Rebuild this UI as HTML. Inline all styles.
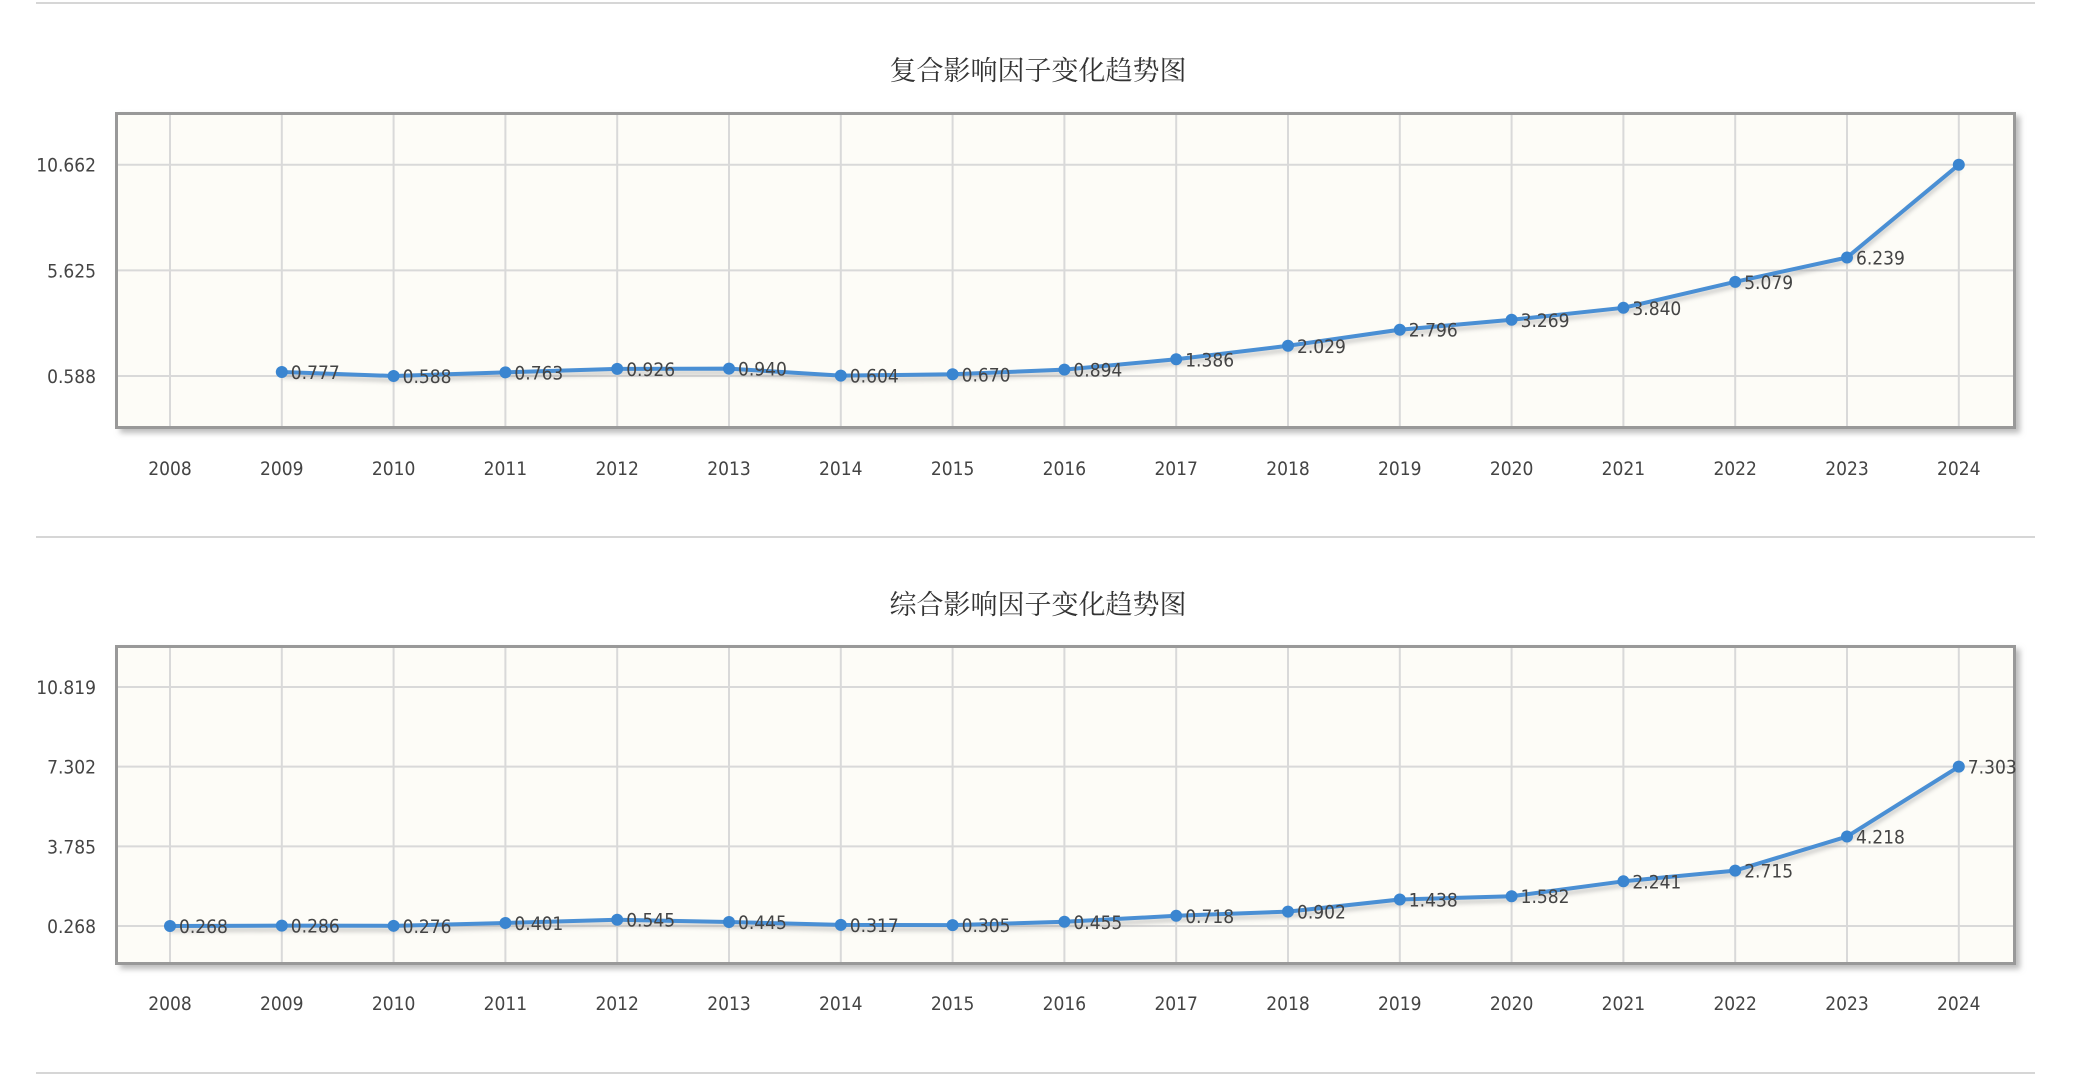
<!DOCTYPE html>
<html><head><meta charset="utf-8"><style>
html,body{margin:0;padding:0;background:#fff;width:2080px;height:1092px;overflow:hidden}
svg{display:block}
</style></head><body>
<svg id="s" width="2080" height="1092" xmlns="http://www.w3.org/2000/svg">
<defs>
<filter id="sh" x="-5%" y="-5%" width="110%" height="120%"><feGaussianBlur stdDeviation="3"/></filter>
<filter id="ls" x="-5%" y="-20%" width="110%" height="140%"><feGaussianBlur stdDeviation="2"/></filter>
</defs>
<line x1="36" y1="3" x2="2035" y2="3" stroke="#d6d6d6" stroke-width="2"/>
<line x1="36" y1="537" x2="2035" y2="537" stroke="#d6d6d6" stroke-width="2"/>
<line x1="36" y1="1073" x2="2035" y2="1073" stroke="#d6d6d6" stroke-width="2"/>
<text x="1038" y="80" text-anchor="middle" font-family="'Liberation Serif','Noto Serif CJK SC',serif" font-size="27" fill="#333">复合影响因子变化趋势图</text>
<text x="1038" y="614" text-anchor="middle" font-family="'Liberation Serif','Noto Serif CJK SC',serif" font-size="27" fill="#333">综合影响因子变化趋势图</text>
<g id="g"></g>
</svg>
<script>
var NS="http://www.w3.org/2000/svg",g=document.getElementById('g');
var F="'DejaVu Sans Condensed','Liberation Sans',sans-serif";
function el(t,a,txt){var e=document.createElementNS(NS,t);for(var k in a)e.setAttribute(k,a[k]);if(txt!=null)e.textContent=txt;g.appendChild(e);return e;}
function chart(top,bot,lab,ticks,yfn,startYear,data,hideLast){
  el('rect',{x:120,y:top+4,width:1900,height:bot-top,fill:'#bbb',filter:'url(#sh)'});
  el('rect',{x:115,y:top,width:1901,height:bot-top,fill:'#fdfcf7'});
  for(var i=0;i<17;i++){var x=170+i*111.8;el('line',{x1:x,y1:top,x2:x,y2:bot,stroke:'#d9d9d9','stroke-width':2});
    el('text',{x:x,y:lab,'text-anchor':'middle','font-family':F,'font-size':19,fill:'#444'},String(2008+i));}
  ticks.forEach(function(t){var y=yfn(t);el('line',{x1:115,y1:y,x2:2016,y2:y,stroke:'#d9d9d9','stroke-width':2});
    el('text',{x:96,y:y+7,'text-anchor':'end','font-family':F,'font-size':19,fill:'#444'},t.toFixed(3));});
  el('rect',{x:116.5,y:top+1.5,width:1898,height:bot-top-3,fill:'none',stroke:'#999','stroke-width':3});
  var pts=data.map(function(v,i){return [170+(startYear-2008+i)*111.8,yfn(v)];});
  el('polyline',{points:pts.map(function(q){return q[0]+','+(q[1]+4);}).join(' '),fill:'none',stroke:'#999','stroke-width':4,opacity:0.5,filter:'url(#ls)'});
  el('polyline',{points:pts.map(function(q){return q[0]+','+q[1];}).join(' '),fill:'none',stroke:'#4a8fd4','stroke-width':4,'stroke-linejoin':'round'});
  pts.forEach(function(q,i){el('circle',{cx:q[0],cy:q[1],r:6,fill:'#3a85d0'});
    if(!(hideLast&&i==pts.length-1))el('text',{x:q[0]+9,y:q[1]+7,'font-family':F,'font-size':19,fill:'#444'},data[i].toFixed(3));});
}
chart(112,429,475,[10.662,5.625,0.588],function(v){return 376-(v-0.588)*20.97;},2009,
 [0.777,0.588,0.763,0.926,0.940,0.604,0.670,0.894,1.386,2.029,2.796,3.269,3.840,5.079,6.239,10.662],true);
chart(645,965,1010,[10.819,7.302,3.785,0.268],function(v){return 926-(v-0.268)*22.65;},2008,
 [0.268,0.286,0.276,0.401,0.545,0.445,0.317,0.305,0.455,0.718,0.902,1.438,1.582,2.241,2.715,4.218,7.303],false);
</script>
</body></html>
